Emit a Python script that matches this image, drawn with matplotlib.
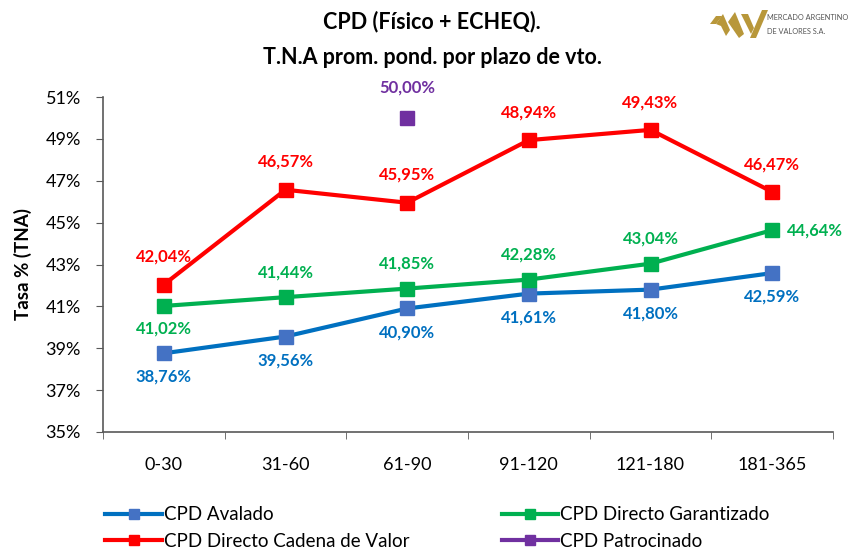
import matplotlib
matplotlib.use("Agg")
import matplotlib.pyplot as plt
from matplotlib.patches import Polygon
from matplotlib.lines import Line2D

plt.rcParams['font.family'] = ['Lato', 'DejaVu Sans']

categories = ["0-30", "31-60", "61-90", "91-120", "121-180", "181-365"]
avalado = [38.76, 39.56, 40.90, 41.61, 41.80, 42.59]
garantizado = [41.02, 41.44, 41.85, 42.28, 43.04, 44.64]
cadena = [42.04, 46.57, 45.95, 48.94, 49.43, 46.47]
patrocinado = [None, None, 50.00, None, None, None]
y_ticks = [35, 37, 39, 41, 43, 45, 47, 49, 51]

W, H = 850, 551
fig = plt.figure(figsize=(W/100, H/100), dpi=100)
ax = fig.add_axes([103/W, 1-432/H, (833-103)/W, (432-97)/H])

x = list(range(len(categories)))
lw = 3.0
ms = 10.5

def fmt(v):
    return f"{v:.2f}%".replace(".", ",")

series = [
    ("CPD Avalado", avalado, "#0070C0", "#4472C4"),
    ("CPD Directo Cadena de Valor", cadena, "#FF0000", "#FF0000"),
    ("CPD Directo Garantizado", garantizado, "#00B050", "#00B050"),
    ("CPD Patrocinado", patrocinado, "#7030A0", "#7030A0"),
]
handles = []
for name, vals, c, mc in series:
    xs = [i for i, v in zip(x, vals) if v is not None]
    ys = [v for v in vals if v is not None]
    ax.plot(xs, ys, color=c, lw=lw, marker='s', ms=ms, mfc=mc, mec=mc, clip_on=False, zorder=3)
    handles.append(Line2D([], [], color=c, lw=lw, marker='s', ms=7.5, mfc=mc, mec=mc))

lab_kw = dict(textcoords='offset points', va='center', fontsize=12, fontweight='bold')
for i, v in enumerate(avalado):
    ax.annotate(fmt(v), (i, v), xytext=(0, -17), color="#0070C0", ha='center', **lab_kw)
for i, v in enumerate(cadena):
    ax.annotate(fmt(v), (i, v), xytext=(0, 20), color="#FF0000", ha='center', **lab_kw)
for i, v in enumerate(garantizado):
    if i == 0:
        ax.annotate(fmt(v), (i, v), xytext=(0, -16), color="#00B050", ha='center', **lab_kw)
    elif i == len(garantizado) - 1:
        ax.annotate(fmt(v), (i, v), xytext=(11, 0), color="#00B050", ha='left', **lab_kw)
    else:
        ax.annotate(fmt(v), (i, v), xytext=(0, 18), color="#00B050", ha='center', **lab_kw)
for i, v in enumerate(patrocinado):
    if v is not None:
        ax.annotate(fmt(v), (i, v), xytext=(0, 22), color="#7030A0", ha='center', **lab_kw)

ax.set_xlim(-0.5, len(categories) - 0.5)
ax.set_ylim(35, 51)
ax.set_yticks(y_ticks)
ax.set_yticklabels([f"{t}%" for t in y_ticks], fontsize=13)
ax.set_xticks(x)
ax.set_xticklabels(categories, fontsize=13)
ax.set_xticks([i - 0.5 for i in range(len(categories) + 1)], minor=True)
ax.tick_params(axis='x', which='major', length=0, pad=18)
ax.tick_params(axis='x', which='minor', length=5, direction='out', color='#595959')
ax.tick_params(axis='y', length=5, direction='out', color='#595959', pad=11)
for s in ['top', 'right']:
    ax.spines[s].set_visible(False)
for s in ['left', 'bottom']:
    ax.spines[s].set_color('#595959')
    ax.spines[s].set_linewidth(1.2)
ax.set_ylabel("Tasa % (TNA)", fontsize=13.5, fontweight='bold', labelpad=10)

fig.text(432/W, 1-22/H, "CPD (Físico + ECHEQ).", ha='center', va='center', fontsize=15.5, fontweight='bold')
fig.text(432/W, 1-57/H, "T.N.A prom. pond. por plazo de vto.", ha='center', va='center', fontsize=15.5, fontweight='bold')

fig.legend(handles=handles, labels=[s[0] for s in series], ncol=2, loc='center left',
           bbox_to_anchor=(96/W, 1-528/H), frameon=False, fontsize=13.5, handlelength=3.0,
           handletextpad=0.1, columnspacing=4.95, labelspacing=0.5, borderpad=0)

# logo
gold = "#B8973A"
def px(pts):
    return [(a/W, 1-b/H) for a, b in pts]
for poly in [
    [(710, 24), (716, 16), (722, 16), (716, 24)],
    [(716, 24), (723, 14), (730, 30), (726, 36), (721, 26)],
    [(728, 22), (735, 12), (744, 34), (739, 38)],
    [(741, 14), (748, 14), (754, 28), (751, 34)],
    [(750, 38), (762, 10), (768, 10), (756, 38)],
]:
    fig.add_artist(Polygon(px(poly), closed=True, transform=fig.transFigure, color=gold, lw=0))
fig.text(767/W, 1-18/H, "MERCADO ARGENTINO", fontsize=5.3, color="#555555", va='center', ha='left')
fig.text(767/W, 1-31/H, "DE VALORES S.A.", fontsize=5.3, color="#555555", va='center', ha='left')

fig.savefig("out.png", dpi=100)
